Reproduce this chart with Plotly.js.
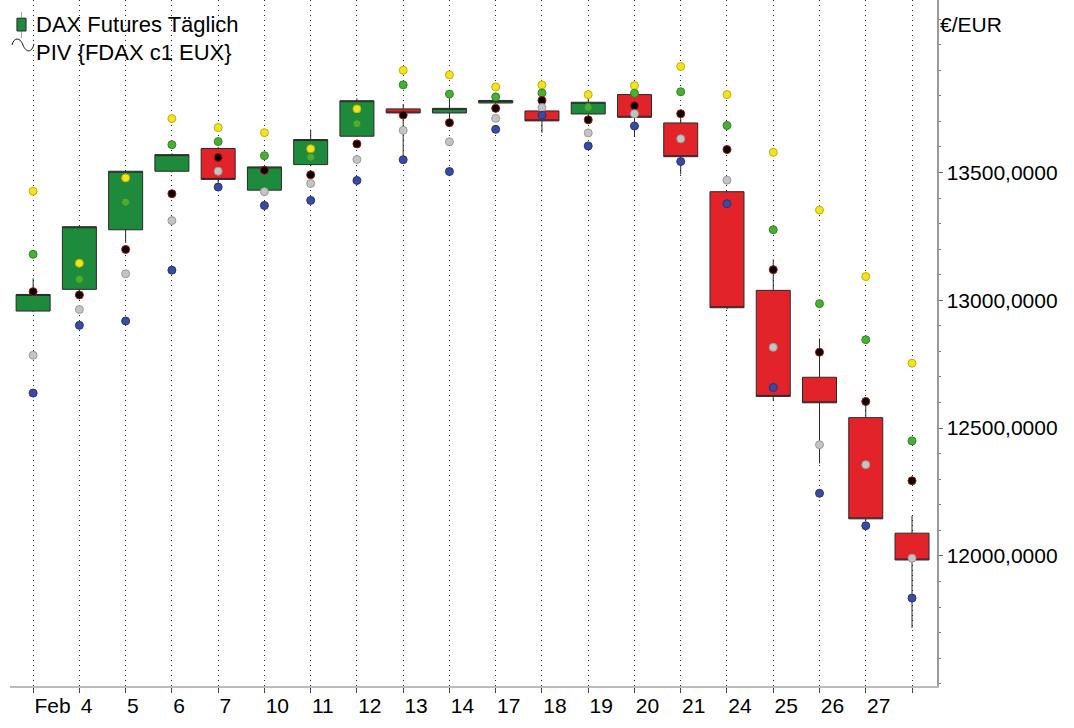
<!DOCTYPE html>
<html><head><meta charset="utf-8">
<script src="https://cdn.plot.ly/plotly-3.0.1.min.js"></script>
<style>html,body{margin:0;padding:0;background:#fff}#chart{width:1074px;height:728px}</style>
</head><body><div id="chart"></div>
<script>
const dates = ["2020-02-03","2020-02-04","2020-02-05","2020-02-06","2020-02-07","2020-02-10","2020-02-11","2020-02-12","2020-02-13","2020-02-14","2020-02-17","2020-02-18","2020-02-19","2020-02-20","2020-02-21","2020-02-24","2020-02-25","2020-02-26","2020-02-27","2020-02-28"];
const tickLabels = ["Feb","4","5","6","7","10","11","12","13","14","17","18","19","20","21","24","25","26","27",""];
const openP  = [12958,13043,13276,13505,13594,13431,13531,13642,13749,13733,13772,13741,13729,13805,13694,13425,13039,12699,12541,12089];
const highP  = [13086,13290,13508,13575,13600,13525,13668,13790,13768,13805,13789,13745,13801,13809,13723,13428,13160,12850,12605,12157];
const lowP   = [12955,13030,13225,13500,13455,13425,13525,13640,13551,13703,13768,13655,13726,13639,13492,12965,12607,12362,12140,11718];
const closeP = [13023,13288,13505,13570,13473,13522,13629,13781,13733,13751,13782,13702,13775,13716,13562,12971,12624,12599,12145,11984];
const pivR2 = [13427,13145,13479,13711,13676,13656,13593,13749,13900,13882,13835,13843,13805,13840,13915,13805,13579,13353,13093,12754];
const pivR1 = [13180,13082,13384,13609,13621,13566,13560,13691,13843,13807,13796,13811,13755,13810,13816,13684,13276,12987,12846,12450];
const pivP  = [13034,13021,13199,13417,13559,13509,13491,13612,13725,13695,13751,13782,13706,13761,13730,13590,13120,12797,12604,12294];
const pivS1 = [12785,12964,13104,13312,13505,13425,13457,13551,13665,13620,13712,13754,13655,13730,13632,13470,12816,12435,12357,11991];
const pivS2 = [12637,12902,12919,13118,13443,13371,13391,13469,13550,13504,13669,13724,13604,13682,13543,13378,12659,12245,12118,11835];
const yTicks = [12000,12500,13000,13500];
const seriesName = "DAX Futures Täglich";
const pivName = "PIV {FDAX c1 EUX}";
const yUnit = "€/EUR";

const FONT = "Liberation Sans, Arial, sans-serif";

const candle = {
  type: 'candlestick', x: dates, open: openP, high: highP, low: lowP, close: closeP,
  increasing: {fillcolor: '#1e8a3c', line: {color: '#2a2a2a', width: 1}},
  decreasing: {fillcolor: '#e2232a', line: {color: '#2a2a2a', width: 1}},
  whiskerwidth: 0, showlegend: false, hoverinfo: 'skip'
};
function dots(y, fill, edge) {
  return {type: 'scatter', mode: 'markers', x: dates, y: y, showlegend: false, hoverinfo: 'skip',
    marker: {size: 8, color: fill, line: {color: edge, width: 1}}};
}
const traces = [
  candle,
  dots(pivR2, '#f3e21f', '#c2b000'),
  dots(pivR1, '#4aae36', '#2d8a20'),
  dots(pivP, '#000000', '#b01010'),
  dots(pivS1, '#c4c4c4', '#9a9a9a'),
  dots(pivS2, '#3a4a9e', '#27347c')
];

const layout = {
  width: 1074, height: 728,
  margin: {l: 10, r: 137, t: 0, b: 42},
  paper_bgcolor: '#fff', plot_bgcolor: '#fff',
  font: {family: FONT, size: 21, color: '#000'},
  separators: ', ',
  boxgap: 0.265, boxgroupgap: 0,
  showlegend: false,
  xaxis: {
    type: 'category', range: [-0.5, 19.54],
    tickmode: 'array', tickvals: dates, ticktext: tickLabels,
    ticklabelposition: 'outside right',
    ticks: 'outside', ticklen: 5, tickcolor: '#444', tickwidth: 1,
    showgrid: true, gridcolor: '#222', griddash: '1px,4px', gridwidth: 1,
    showline: true, linecolor: '#bbbbbb', linewidth: 1.5,
    rangeslider: {visible: false}, zeroline: false,
    tickfont: {family: FONT, size: 21, color: '#000'}
  },
  yaxis: {
    side: 'right', range: [11491, 14175],
    tickmode: 'array', tickvals: yTicks, tickformat: '.4f',
    ticks: 'outside', ticklen: 4, tickcolor: '#666',
    minor: {tickmode: 'linear', tick0: 0, dtick: 100, ticks: 'outside', ticklen: 2, tickcolor: '#777', showgrid: false},
    showgrid: false, zeroline: false,
    showline: true, linecolor: '#999', linewidth: 1.5,
    tickfont: {family: FONT, size: 21, color: '#000'}
  },
  shapes: [
    {type: 'line', xref: 'paper', yref: 'paper', x0: 0.0124, x1: 0.0124, y0: 0.9446, y1: 0.9825, line: {color: '#aaa', width: 1}},
    {type: 'rect', xref: 'paper', yref: 'paper', x0: 0.0075, x1: 0.0173, y0: 0.9548, y1: 0.9735, fillcolor: '#1e8a3c', line: {color: '#2a2a2a', width: 1}},
    {type: 'path', xref: 'paper', yref: 'paper', line: {color: '#111', width: 1},
      path: 'M 0.00216,0.9344 C 0.00432,0.9460 0.01079,0.9460 0.01402,0.9344 C 0.01726,0.9228 0.02373,0.9228 0.02589,0.9360'}
  ],
  annotations: [
    {xref: 'paper', yref: 'paper', x: 0.026, y: 0.965, xanchor: 'left', yanchor: 'middle', showarrow: false,
      text: seriesName, font: {family: FONT, size: 22, color: '#000'}},
    {xref: 'paper', yref: 'paper', x: 0.026, y: 0.924, xanchor: 'left', yanchor: 'middle', showarrow: false,
      text: pivName, font: {family: FONT, size: 22, color: '#000'}},
    {xref: 'paper', yref: 'paper', x: 1.0, y: 0.964, xanchor: 'left', yanchor: 'middle', showarrow: false, xshift: 1,
      text: yUnit, font: {family: FONT, size: 21, color: '#000'}}
  ]
};
Plotly.newPlot('chart', traces, layout, {displayModeBar: false, staticPlot: true});
</script>
</body></html>
